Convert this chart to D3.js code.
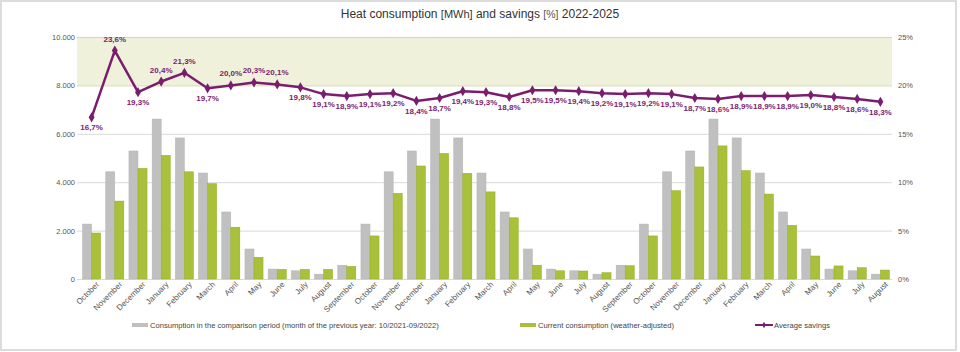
<!DOCTYPE html>
<meta charset="utf-8">
<script src="https://d3js.org/d3.v7.min.js"></script>
<style>
  body { margin: 0; background: #fff; }
  text { font-family: "Liberation Sans", Arial, sans-serif; }
</style>
<div id="dataVis"></div>
<script>
// months Oct 2022 .. Aug 2025
var months = ["October","November","December","January","February","March","April","May","June","July","August","September",
              "October","November","December","January","February","March","April","May","June","July","August","September",
              "October","November","December","January","February","March","April","May","June","July","August"];

// consumption in comparison period (MWh)
var comparison = [2270,4430,5290,6610,5830,4380,2770,1240,410,340,200,570,
                  2270,4430,5290,6610,5830,4380,2770,1240,410,340,200,570,
                  2270,4430,5290,6610,5830,4380,2770,1240,410,340,200];

// current consumption, weather-adjusted (MWh)
var current = [1900,3220,4570,5110,4430,3940,2140,900,400,400,400,520,
               1780,3540,4670,5190,4370,3600,2530,570,340,330,260,550,
               1780,3650,4630,5500,4480,3510,2220,950,540,470,370];

// average savings (%)
var savings = [16.7,23.6,19.3,20.4,21.3,19.7,20.0,20.3,20.1,19.8,19.1,18.9,
               19.1,19.2,18.4,18.7,19.4,19.3,18.8,19.5,19.5,19.4,19.2,19.1,
               19.2,19.1,18.7,18.6,18.9,18.9,18.9,19.0,18.8,18.6,18.3];

var leftTicks = [0, 2000, 4000, 6000, 8000, 10000];
var rightTicks = [0, 5, 10, 15, 20, 25];

var W = 960, H = 352;
var plotL = 80, plotR = 892, plotT = 37, plotB = 279;

var svg = d3.select('#dataVis').append('svg')
  .attr('width', W).attr('height', H);

// outer frame
svg.append('rect')
  .attr('x', 1).attr('y', 1).attr('width', 955).attr('height', 349)
  .attr('fill', '#fff').attr('stroke', '#dcdcdc').attr('stroke-width', 2);

var idx = months.map((m, i) => i);

var x = d3.scaleBand()
  .domain(idx)
  .range([plotL, plotR])
  .paddingInner(0.22)
  .paddingOuter(0.11);

var x1 = d3.scaleBand()
  .domain(['comparison', 'current'])
  .range([0, x.bandwidth()]);

var y = d3.scaleLinear().domain([0, 10000]).range([plotB, plotT]);
var yPct = d3.scaleLinear().domain([0, 25]).range([plotB, plotT]);

var de = d3.formatLocale({decimal: ",", thousands: ".", grouping: [3], currency: ["", ""]});
var fmtThousands = de.format(",");

// target band 20%-25%
svg.append('rect')
  .attr('x', 77).attr('y', yPct(25))
  .attr('width', plotR - 77).attr('height', yPct(20) - yPct(25))
  .attr('fill', '#eff1da');

// gridlines
svg.append('g')
  .selectAll('line')
  .data(leftTicks)
  .enter().append('line')
    .attr('x1', 77).attr('x2', plotR)
    .attr('y1', d => y(d) + 0.5).attr('y2', d => y(d) + 0.5)
    .attr('stroke', d => d >= 8000 ? '#d3dab0' : '#d9d9d9')
    .attr('stroke-width', 1);

// left axis
var yAxisL = svg.append('g')
  .attr('transform', 'translate(76,0)')
  .call(d3.axisLeft(y).tickValues(leftTicks).tickFormat(fmtThousands).tickSize(0).tickPadding(1));
yAxisL.select('.domain').remove();
yAxisL.selectAll('text').attr('fill', '#555').style('font-size', '7.5px');

// right axis
var yAxisR = svg.append('g')
  .attr('transform', 'translate(897,0)')
  .call(d3.axisRight(yPct).tickValues(rightTicks).tickFormat(d => d + '%').tickSize(0).tickPadding(1));
yAxisR.select('.domain').remove();
yAxisR.selectAll('text').attr('fill', '#555').style('font-size', '7.5px');

// bars
var groups = svg.append('g')
  .selectAll('g')
  .data(idx)
  .enter().append('g')
    .attr('transform', d => 'translate(' + x(d) + ',0)');

groups.append('rect')
  .attr('x', x1('comparison'))
  .attr('y', d => y(comparison[d]))
  .attr('width', x1.bandwidth())
  .attr('height', d => y(0) - y(comparison[d]))
  .attr('fill', '#c0c0c0')
  .attr('stroke', '#b3b3b3').attr('stroke-width', 0.5);

groups.append('rect')
  .attr('x', x1('current'))
  .attr('y', d => y(current[d]))
  .attr('width', x1.bandwidth())
  .attr('height', d => y(0) - y(current[d]))
  .attr('fill', '#a9c03a')
  .attr('stroke', '#94ad22').attr('stroke-width', 0.5);

// x axis labels
var xAxis = svg.append('g')
  .attr('transform', 'translate(0,' + (plotB + 2) + ')')
  .call(d3.axisBottom(x).tickFormat(d => months[d]).tickSize(0).tickPadding(0));
xAxis.select('.domain').remove();
xAxis.selectAll('text')
  .attr('fill', '#555')
  .style('font-size', '8px')
  .attr('text-anchor', 'end')
  .attr('dy', '0.7em')
  .attr('transform', 'translate(4,0) rotate(-45)');

// savings line
var color = '#7b1d6f';
var cx = d => x(d) + x.bandwidth() / 2;

svg.append('path')
  .datum(idx)
  .attr('fill', 'none')
  .attr('stroke', color)
  .attr('stroke-width', 2.5)
  .attr('stroke-linejoin', 'round')
  .attr('d', d3.line().x(cx).y(d => yPct(savings[d])));

svg.append('g')
  .selectAll('path')
  .data(idx)
  .enter().append('path')
    .attr('d', d3.symbol(d3.symbolDiamond, 30))
    .attr('transform', d => 'translate(' + cx(d) + ',' + yPct(savings[d]) + ')')
    .attr('fill', color);

svg.append('g')
  .selectAll('text')
  .data(idx)
  .enter().append('text')
    .attr('x', cx)
    .attr('y', d => savings[d] >= 20 ? yPct(savings[d]) - 9 : yPct(savings[d]) + 13)
    .attr('text-anchor', 'middle')
    .attr('fill', color)
    .style('font-size', '8px')
    .style('font-weight', 'bold')
    .text(d => savings[d].toFixed(1).replace('.', ',') + '%');

// title
var title = svg.append('text')
  .attr('x', 480).attr('y', 18)
  .attr('text-anchor', 'middle')
  .attr('fill', '#333')
  .style('font-size', '12px');
title.append('tspan').text('Heat consumption ');
title.append('tspan').style('font-size', '11px').text('[MWh]');
title.append('tspan').text(' and savings ');
title.append('tspan').style('font-size', '10.5px').attr('fill', '#555').text('[%]');
title.append('tspan').text(' 2022-2025');

// legend
var legend = svg.append('g').style('font-size', '7.6px');
legend.append('rect').attr('x', 132).attr('y', 323).attr('width', 16).attr('height', 4).attr('fill', '#c0c0c0');
legend.append('text').attr('x', 150).attr('y', 328).attr('fill', '#444')
  .text('Consumption in the comparison period (month of the previous year: 10/2021-09/2022)');
legend.append('rect').attr('x', 520).attr('y', 323).attr('width', 16).attr('height', 4).attr('fill', '#a9c03a');
legend.append('text').attr('x', 538).attr('y', 328).attr('fill', '#444')
  .text('Current consumption (weather-adjusted)');
legend.append('line').attr('x1', 755).attr('x2', 773).attr('y1', 325).attr('y2', 325)
  .attr('stroke', color).attr('stroke-width', 2);
legend.append('path').attr('d', d3.symbol(d3.symbolDiamond, 12))
  .attr('transform', 'translate(764,325)').attr('fill', color);
legend.append('text').attr('x', 774).attr('y', 328).attr('fill', '#444')
  .text('Average savings');
</script>
